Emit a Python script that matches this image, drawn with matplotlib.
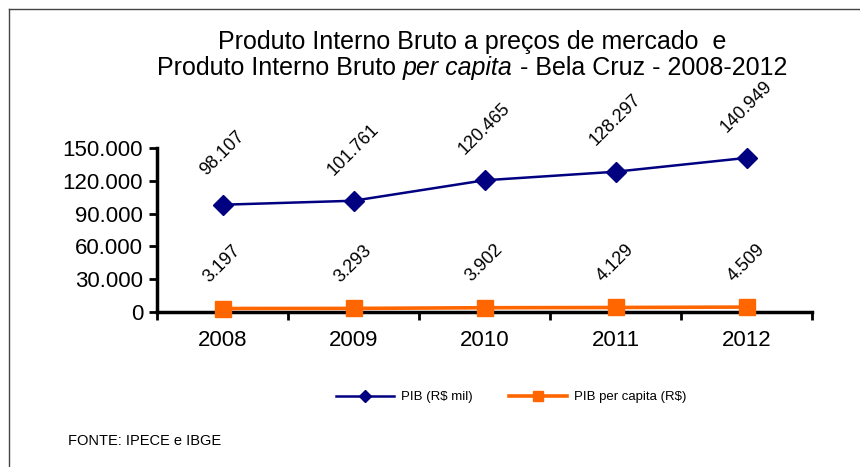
import numpy as np
import matplotlib.pyplot as plt
from matplotlib.lines import Line2D

plt.rcParams['font.family'] = ['Liberation Sans', 'DejaVu Sans']

anos = ['2008', '2009', '2010', '2011', '2012']
pib = [98107, 101761, 120465, 128297, 140949]
pib_pc = [3197, 3293, 3902, 4129, 4509]
pib_txt = ['98.107', '101.761', '120.465', '128.297', '140.949']
pib_pc_txt = ['3.197', '3.293', '3.902', '4.129', '4.509']
yticks = [0, 30000, 60000, 90000, 120000, 150000]
ytick_txt = ['0', '30.000', '60.000', '90.000', '120.000', '150.000']

W, H = 860, 467
fig = plt.figure(figsize=(8.6, 4.67), dpi=100)

# moldura (só esquerda e topo visíveis)
fig.add_artist(Line2D([9/W, 9/W], [0, 1 - 9/H], color='#444444', lw=1))
fig.add_artist(Line2D([9/W, 1], [1 - 9/H, 1 - 9/H], color='#444444', lw=1))

ax = fig.add_axes([157/W, 1 - 312/H, (812 - 157)/W, (312 - 148)/H])
x = np.arange(len(anos)) + 0.5

ax.plot(x, pib, color='#000080', lw=1.8, marker='D', ms=10, clip_on=False, zorder=3)
ax.plot(x, pib_pc, color='#FF6600', lw=2.6, marker='s', ms=12, clip_on=False, zorder=3)

for xi, v, t in zip(x, pib, pib_txt):
    ax.annotate(t, (xi, v), xytext=(0, 37), textcoords='offset points',
                ha='center', va='center', rotation=45, fontsize=13)
for xi, v, t in zip(x, pib_pc, pib_pc_txt):
    ax.annotate(t, (xi, v), xytext=(0, 32), textcoords='offset points',
                ha='center', va='center', rotation=45, fontsize=13)

ax.set_xlim(0, len(anos))
ax.set_ylim(0, 150000)
ax.set_xticks(np.arange(len(anos) + 1))
ax.set_xticklabels([])
ax.set_xticks(x, minor=True)
ax.set_xticklabels(anos, minor=True, fontsize=16)
ax.tick_params(axis='x', which='minor', length=0, pad=13)
ax.tick_params(axis='x', which='major', length=6, width=2, direction='out')
ax.set_yticks(yticks)
ax.set_yticklabels(ytick_txt, fontsize=16)
ax.tick_params(axis='y', length=6, width=2, direction='out', pad=4)
for s in ['top', 'right']:
    ax.spines[s].set_visible(False)
ax.spines['left'].set_linewidth(2.5)
ax.spines['bottom'].set_linewidth(2.5)

# título
fig.text(472/W, 1 - 42/H, 'Produto Interno Bruto a preços de mercado  e',
         ha='center', va='center', fontsize=18)
partes = [('Produto Interno Bruto ', 'normal'), ('per capita', 'italic'),
          (' - Bela Cruz - 2008-2012', 'normal')]
r = fig.canvas.get_renderer()
txts = [fig.text(0, 1 - 68/H, s, ha='left', va='center', fontsize=18, style=st)
        for s, st in partes]
larg = [t.get_window_extent(r).width for t in txts]
x0 = 472 - sum(larg) / 2
for t, w in zip(txts, larg):
    t.set_x(x0 / W)
    x0 += w

h1 = Line2D([], [], color='#000080', lw=1.8, marker='D', ms=6)
h2 = Line2D([], [], color='#FF6600', lw=2.6, marker='s', ms=7)
fig.legend([h1, h2], ['PIB (R$ mil)', 'PIB per capita (R$)'], loc='center',
           bbox_to_anchor=(511/W, 1 - 397/H), ncol=2, frameon=False,
           fontsize=9.5, handlelength=4.4, columnspacing=2.8, handletextpad=0.5)

fig.text(68/W, 1 - 441/H, 'FONTE: IPECE e IBGE', ha='left', va='center', fontsize=10.5)

fig.savefig('out.png', dpi=100)
